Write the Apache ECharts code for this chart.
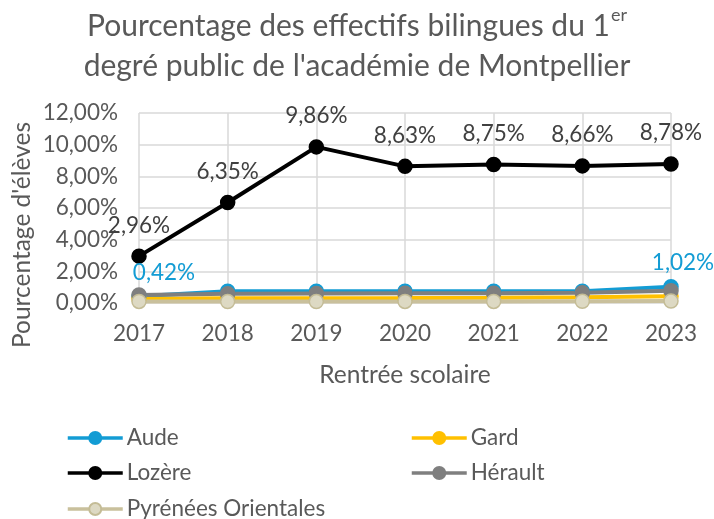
<!DOCTYPE html>
<html>
<head>
<meta charset="utf-8">
<script src="https://cdn.jsdelivr.net/npm/echarts@6/dist/echarts.min.js"></script>
<style>
  html, body { margin: 0; padding: 0; background: #fff; }
  #chart { width: 714px; height: 519px; }
</style>
</head>
<body>
<div id="chart"></div>
<script>
// Rentrées scolaires
const years = ['2017', '2018', '2019', '2020', '2021', '2022', '2023'];

// Part des élèves en filière bilingue (en %)
const aude = [0.42, 0.74, 0.74, 0.74, 0.74, 0.74, 1.02];
const gard = [0.27, 0.30, 0.30, 0.31, 0.33, 0.36, 0.42];
const lozere = [2.96, 6.35, 9.86, 8.63, 8.75, 8.66, 8.78];
const herault = [0.50, 0.58, 0.60, 0.61, 0.62, 0.65, 0.78];
const pyrenees = [0.10, 0.09, 0.09, 0.10, 0.10, 0.11, 0.12];

// Points de l'Aude dont la valeur est affichée
const audeLabelled = [0, 6];

const FONT = 'Lato';
const TEXT = '#595959';
const GRID = '#d9d9d9';
const TICK_SIZE = 22.5;
const BODY_SIZE = 24.5;

const fmtPct = v => v.toFixed(2).replace('.', ',') + '%';

const chart = echarts.init(document.getElementById('chart'));

function lineSeries(name, values, color, fill, border) {
  return {
    name: name,
    type: 'line',
    data: values,
    symbol: 'circle',
    symbolSize: 14,
    showAllSymbol: true,
    lineStyle: { color: color, width: 4 },
    itemStyle: { color: fill || color, borderColor: border || color, borderWidth: 1.5 },
    emphasis: { disabled: true },
    animation: false
  };
}

const audeSeries = lineSeries('Aude', aude.map((v, i) => {
  if (audeLabelled.indexOf(i) < 0) return v;
  return {
    value: v,
    label: {
      show: true,
      position: 'top',
      distance: 4,
      offset: [i === 0 ? 25 : 12, 0],
      formatter: p => fmtPct(p.value),
      fontFamily: FONT,
      fontSize: TICK_SIZE,
      lineHeight: 24,
      color: '#139CD4'
    }
  };
}), '#139CD4');

const gardSeries = lineSeries('Gard', gard, '#FFC000');

const lozereSeries = lineSeries('Lozère', lozere, '#000000');
lozereSeries.label = {
  show: true,
  position: 'top',
  distance: 11,
  formatter: p => fmtPct(p.value),
  fontFamily: FONT,
  fontSize: TICK_SIZE,
  lineHeight: 24,
  color: '#404040'
};

const heraultSeries = lineSeries('Hérault', herault, '#7F7F7F');
const pyreneesSeries = lineSeries('Pyrénées Orientales', pyrenees, '#C9C09C', '#DDD9C3', '#C4BC96');

const legendBase = {
  itemWidth: 55,
  itemHeight: 15,
  itemGap: 0,
  padding: 0,
  selectedMode: false,
  lineStyle: { width: 3.5 },
  textStyle: { fontFamily: FONT, fontSize: TICK_SIZE, lineHeight: 26, color: TEXT, padding: [0, 0, 0, -1] }
};

chart.setOption({
  backgroundColor: '#ffffff',
  animation: false,
  title: {
    left: 'center',
    top: 1,
    text: '{a|Pourcentage des effectifs bilingues du 1}{sup|er}\n{a|degré public de l\'académie de Montpellier}',
    textStyle: {
      fontWeight: 'normal',
      rich: {
        a: { fontFamily: FONT, fontSize: 30, fontWeight: 'normal', lineHeight: 40, color: TEXT },
        sup: { fontFamily: FONT, fontSize: 18, fontWeight: 'normal', lineHeight: 22, color: TEXT, verticalAlign: 'top', padding: [0, 0, 0, 1] }
      }
    }
  },
  grid: { left: 139, right: 43, top: 113, bottom: 216, containLabel: false },
  xAxis: {
    type: 'category',
    data: years,
    boundaryGap: false,
    axisLine: { show: false },
    axisTick: { show: false },
    splitLine: { show: true, lineStyle: { color: GRID, width: 1.5 } },
    axisLabel: { fontFamily: FONT, fontSize: TICK_SIZE, lineHeight: 24, color: TEXT, margin: 19 },
    name: 'Rentrée scolaire',
    nameLocation: 'middle',
    nameGap: 59,
    nameTextStyle: { fontFamily: FONT, fontSize: BODY_SIZE, lineHeight: 26, color: TEXT }
  },
  yAxis: {
    type: 'value',
    min: 0,
    max: 12,
    interval: 2,
    axisLine: { show: false },
    axisTick: { show: false },
    splitLine: { show: true, lineStyle: { color: GRID, width: 1.5 } },
    axisLabel: { fontFamily: FONT, fontSize: TICK_SIZE, color: TEXT, margin: 21, formatter: v => fmtPct(v) }
  },
  graphic: [{
    type: 'text',
    x: 22,
    y: 235,
    rotation: Math.PI / 2,
    style: {
      text: 'Pourcentage d\'élèves',
      fontFamily: FONT,
      fontSize: BODY_SIZE,
      fill: TEXT,
      align: 'center',
      verticalAlign: 'middle'
    }
  }],
  legend: [
    Object.assign({}, legendBase, { data: ['Aude'], left: 66, top: 425 }),
    Object.assign({}, legendBase, { data: ['Gard'], left: 410, top: 425 }),
    Object.assign({}, legendBase, { data: ['Lozère'], left: 66, top: 460 }),
    Object.assign({}, legendBase, { data: ['Hérault'], left: 410, top: 460 }),
    Object.assign({}, legendBase, { data: ['Pyrénées Orientales'], left: 66, top: 496 })
  ],
  series: [audeSeries, gardSeries, lozereSeries, heraultSeries, pyreneesSeries]
});
</script>
</body>
</html>
